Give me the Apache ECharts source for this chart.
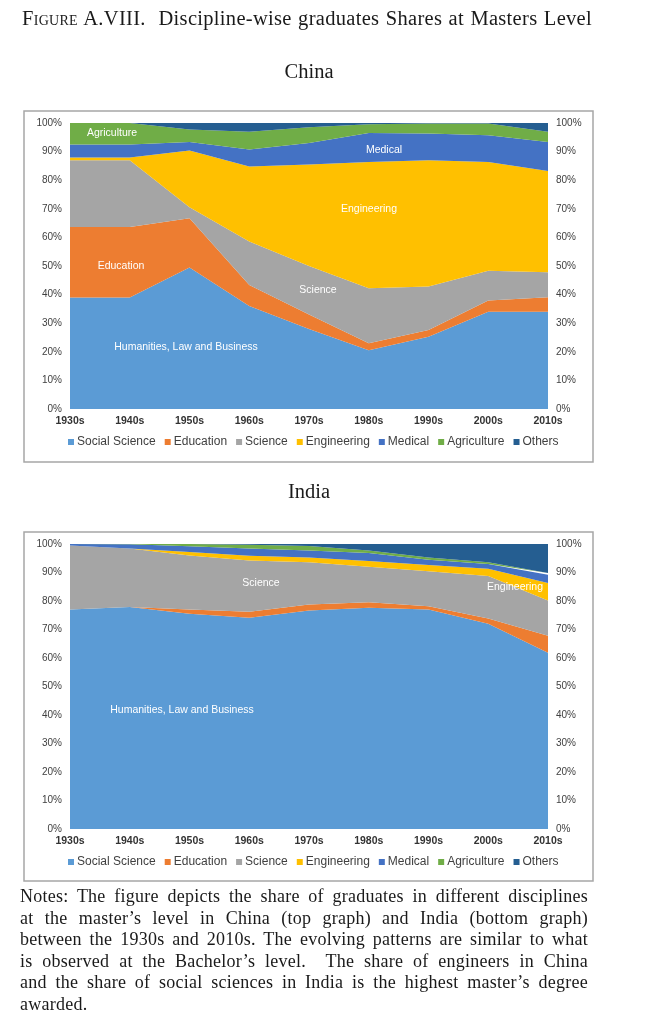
<!DOCTYPE html>
<html>
<head>
<meta charset="utf-8">
<script src="https://cdn.jsdelivr.net/npm/echarts@6/dist/echarts.min.js"></script>
<style>
html,body{margin:0;padding:0;background:#fff;}
#wrap{position:relative;width:650px;height:1033px;overflow:hidden;background:#fff;}
#chart{position:absolute;left:0;top:0;width:650px;height:1033px;}
.serif{font-family:"Liberation Serif","DejaVu Serif",serif;color:#1a1a1a;}
#cap{position:absolute;left:22px;top:5px;width:570px;font-size:20.5px;letter-spacing:0.3px;line-height:26px;text-align:justify;text-align-last:justify;white-space:nowrap;}
#cap .sc{font-variant:small-caps;}
.ptitle{position:absolute;left:24px;width:570px;text-align:center;font-size:20.5px;line-height:26px;}
#notes{position:absolute;left:20px;top:886px;width:568px;font-size:18px;letter-spacing:0.25px;line-height:21.5px;}
#notes div{text-align:justify;text-align-last:justify;white-space:nowrap;}
#notes div.last{text-align:left;text-align-last:left;}
</style>
</head>
<body>
<div id="wrap">
  <div id="chart"></div>
  <div id="cap" class="serif"><span class="sc">Figure</span> A.VIII.&nbsp; Discipline-wise graduates Shares at Masters Level</div>
  <div class="ptitle serif" style="top:58px;">China</div>
  <div class="ptitle serif" style="top:478px;">India</div>
  <div id="notes" class="serif">
    <div>Notes: The figure depicts the share of graduates in different disciplines</div>
    <div>at the master’s level in China (top graph) and India (bottom graph)</div>
    <div>between the 1930s and 2010s. The evolving patterns are similar to what</div>
    <div>is observed at the Bachelor’s level.&nbsp; The share of engineers in China</div>
    <div>and the share of social sciences in India is the highest master’s degree</div>
    <div class="last">awarded.</div>
  </div>
</div>
<script>
// ---------- DATA ----------
const categories = ['1930s','1940s','1950s','1960s','1970s','1980s','1990s','2000s','2010s'];
const seriesNames = ['Social Science','Education','Science','Engineering','Medical','Agriculture','Others'];
const yTicks = [0,10,20,30,40,50,60,70,80,90,100];

// China (share %, stacked bottom to top)
const chinaSocial      = [39.0, 39.0, 49.5, 36.0, 28.0, 20.5, 25.3, 34.0, 34.0];
const chinaEducation   = [24.6, 24.6, 17.2,  7.4,  5.0,  2.5,  2.3,  3.9,  5.1];
const chinaScience     = [23.4, 23.4,  3.8, 15.2, 17.0, 19.2, 15.2, 10.4,  8.7];
const chinaEngineering = [ 0.9,  0.9, 19.9, 26.2, 35.5, 44.2, 44.2, 38.1, 35.4];
const chinaMedical     = [ 4.6,  4.6,  3.0,  5.9,  7.5, 10.1,  9.3,  9.3, 10.2];
const chinaAgriculture = [ 7.5,  7.5,  4.3,  6.2,  5.5,  3.1,  3.5,  4.1,  3.5];
const chinaOthers      = [ 0.0,  0.0,  2.3,  3.1,  1.5,  0.4,  0.2,  0.2,  3.1];

// India
const indiaSocial      = [77.0, 77.9, 75.5, 74.1, 76.7, 77.6, 77.0, 72.0, 61.8];
const indiaEducation   = [ 0.0,  0.0,  1.5,  2.1,  2.1,  2.0,  1.2,  1.9,  6.0];
const indiaScience     = [22.5, 20.5, 19.0, 18.0, 14.8, 12.4, 12.2, 14.9, 12.4];
const indiaEngineering = [ 0.0,  0.0,  1.2,  1.7,  1.7,  2.0,  2.2,  2.5,  6.1];
const indiaMedical     = [ 0.5,  1.5,  2.0,  2.5,  2.4,  2.8,  1.9,  1.7,  2.9];
const indiaAgriculture = [ 0.0,  0.1,  0.8,  1.3,  1.6,  0.9,  0.8,  0.6,  0.6];
const indiaOthers      = [ 0.0,  0.0,  0.0,  0.3,  0.7,  2.3,  4.7,  6.4, 10.2];

const colors = ['#5B9BD5','#ED7D31','#A5A5A5','#FFC000','#4472C4','#70AD47','#255E91'];

// in-chart annotation texts
const chinaNotes = [
  {text:'Agriculture', x:112, y:133},
  {text:'Education', x:121, y:266},
  {text:'Humanities, Law and Business', x:186, y:347},
  {text:'Science', x:318, y:290},
  {text:'Engineering', x:369, y:209},
  {text:'Medical', x:384, y:150}
];
const indiaNotes = [
  {text:'Science', x:261, y:583},
  {text:'Humanities, Law and Business', x:182, y:710},
  {text:'Engineering', x:515, y:587}
];

// ---------- CHART ----------
const chinaData = [chinaSocial, chinaEducation, chinaScience, chinaEngineering, chinaMedical, chinaAgriculture, chinaOthers];
const indiaData = [indiaSocial, indiaEducation, indiaScience, indiaEngineering, indiaMedical, indiaAgriculture, indiaOthers];

const sans = '"Liberation Sans", Arial, sans-serif';

function xAxisFor(gi){
  return {
    type:'category', gridIndex:gi, data:categories, boundaryGap:false,
    axisLine:{show:false}, axisTick:{show:false},
    axisLabel:{fontFamily:sans, fontSize:10.5, color:'#333', margin:7, fontWeight:'bold'}
  };
}
function yAxisFor(gi, pos){
  return {
    type:'value', gridIndex:gi, position:pos, min:0, max:100, interval:10,
    axisLine:{show:false}, axisTick:{show:false}, splitLine:{show:false},
    axisLabel:{fontFamily:sans, fontSize:10, color:'#404040', margin:8,
      formatter:function(v){ return yTicks.indexOf(v) >= 0 ? v + '%' : ''; }}
  };
}
function seriesFor(gi, dataArr){
  return dataArr.map(function(d, i){
    return {
      name: seriesNames[i], type:'line', stack:'s'+gi,
      xAxisIndex:gi, yAxisIndex:gi*2,
      data:d, symbol:'none', smooth:false,
      lineStyle:{width:0}, areaStyle:{opacity:1, color:colors[i]},
      itemStyle:{color:colors[i]}, emphasis:{disabled:true}, z:2
    };
  });
}
function legendFor(top){
  return {
    top:top, left:63, data:seriesNames, icon:'rect', itemWidth:6, itemHeight:6, itemGap:9,
    textStyle:{fontFamily:sans, fontSize:12, color:'#404040', padding:[0,0,0,-2]},
    selectedMode:false
  };
}
function noteGraphics(list){
  return list.map(function(n){
    return {type:'text', x:n.x, y:n.y, z:10,
      style:{text:n.text, fill:'#ffffff', font:'10.5px ' + sans, textAlign:'center', textVerticalAlign:'middle'}};
  });
}

const chart = echarts.init(document.getElementById('chart'), null, {renderer:'canvas'});
chart.setOption({
  animation:false,
  color:colors,
  grid:[
    {left:70, top:123, width:478, height:286},
    {left:70, top:544, width:478, height:285}
  ],
  xAxis:[xAxisFor(0), xAxisFor(1)],
  yAxis:[yAxisFor(0,'left'), yAxisFor(0,'right'), yAxisFor(1,'left'), yAxisFor(1,'right')],
  legend:[legendFor(431), legendFor(851)],
  series: seriesFor(0, chinaData).concat(seriesFor(1, indiaData)),
  graphic: [
    {type:'rect', shape:{x:24, y:111, width:569, height:351}, style:{fill:'none', stroke:'#a6a6a6', lineWidth:1.5}, z:0},
    {type:'rect', shape:{x:24, y:532, width:569, height:349}, style:{fill:'none', stroke:'#a6a6a6', lineWidth:1.5}, z:0}
  ].concat(noteGraphics(chinaNotes)).concat(noteGraphics(indiaNotes))
});
</script>
</body>
</html>
